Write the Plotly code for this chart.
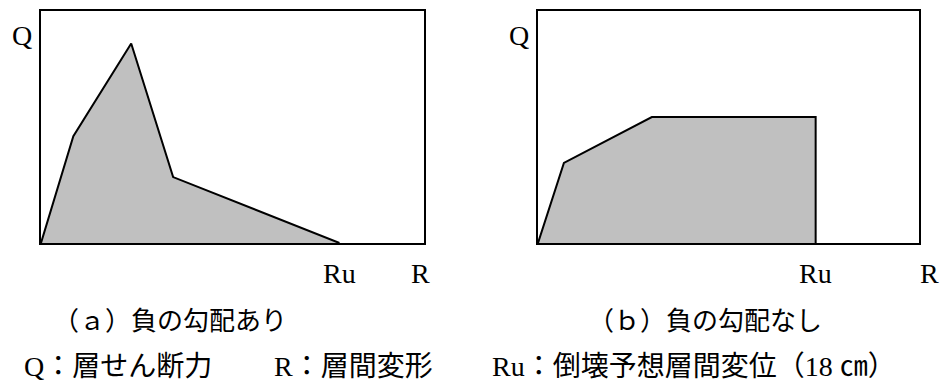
import plotly.graph_objects as go

# data (R in cm, Q relative)
r_a = [0, 1.95, 5.44, 7.97, 18]
q_a = [0, 46, 86, 28.4, 0]
r_b = [0, 1.68, 7.38, 18, 18]
q_b = [0, 34.5, 54.3, 54.3, 0]
ru = 18
xmax_a = 23.1
xmax_b = 24.7

caption_a = "（ａ）負の勾配あり"
caption_b = "（ｂ）負の勾配なし"
legend_q = "Q：層せん断力"
legend_r = "R：層間変形"
legend_ru = "Ru：倒壊予想層間変位（18 ㎝）"

FONT = "Liberation Serif, Noto Sans CJK JP"
FILL = "#c0c0c0"

W, H = 940, 383

def px(p):
    return p / W

def py(p):
    return 1 - p / H

fig = go.Figure()
fig.add_trace(go.Scatter(x=r_a, y=q_a, fill="toself", fillcolor=FILL, mode="lines",
                         line=dict(color="black", width=2), xaxis="x", yaxis="y",
                         hoverinfo="skip", showlegend=False))
fig.add_trace(go.Scatter(x=r_b, y=q_b, fill="toself", fillcolor=FILL, mode="lines",
                         line=dict(color="black", width=2), xaxis="x2", yaxis="y2",
                         hoverinfo="skip", showlegend=False))

ydom = [py(243), py(11)]
axcommon = dict(showline=True, mirror=True, linecolor="black", linewidth=2,
                showgrid=False, zeroline=False, showticklabels=False, ticks="")
fig.update_layout(
    width=W, height=H,
    margin=dict(l=0, r=0, t=0, b=0),
    paper_bgcolor="white", plot_bgcolor="white",
    xaxis=dict(domain=[px(41), px(424)], range=[0, xmax_a], **axcommon),
    yaxis=dict(domain=ydom, range=[0, 100], anchor="x", **axcommon),
    xaxis2=dict(domain=[px(538), px(919)], range=[0, xmax_b], anchor="y2", **axcommon),
    yaxis2=dict(domain=ydom, range=[0, 100], anchor="x2", **axcommon),
    showlegend=False,
)

def ann(text, x, y, xref="paper", yref="paper", xanchor="center", size=28):
    fig.add_annotation(text=text, x=x, y=y, xref=xref, yref=yref, showarrow=False,
                       xanchor=xanchor, yanchor="middle",
                       font=dict(family=FONT, size=size, color="black"))

# Q labels
ann("Q", px(22), py(35))
ann("Q", px(519), py(35))
# Ru / R labels
ann("Ru", ru, py(273), xref="x")
ann("R", px(420), py(273))
ann("Ru", ru, py(273), xref="x2")
ann("R", px(929), py(273))
# captions
ann(caption_a, px(170), py(321), size=26)
ann(caption_b, px(705), py(321), size=26)
# bottom legend
ann(legend_q, px(22), py(366), xanchor="left", size=28)
ann(legend_r, px(272), py(366), xanchor="left", size=28)
ann(legend_ru, px(490), py(366), xanchor="left", size=28)

fig.write_html(
    "out.html",
    config={"displayModeBar": False},
    post_script="document.body.style.margin='0';document.body.style.overflow='hidden';",
)
